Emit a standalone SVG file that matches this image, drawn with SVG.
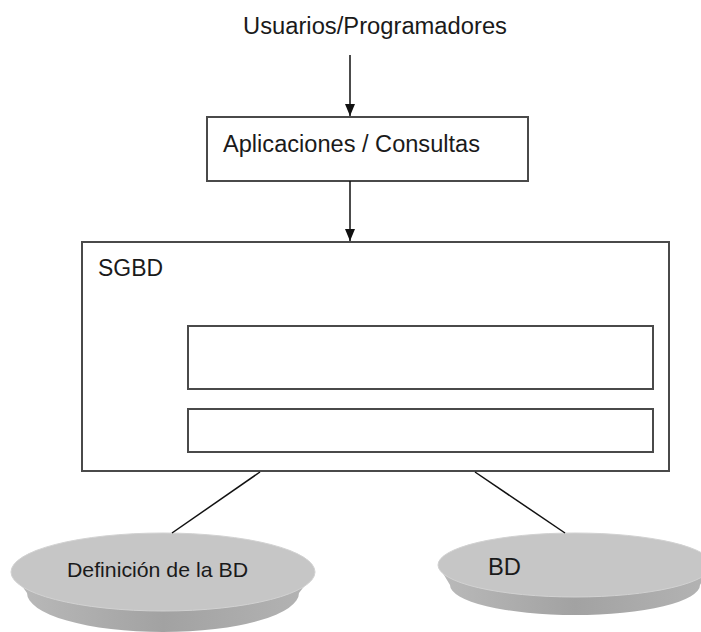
<svg xmlns="http://www.w3.org/2000/svg" width="701" height="632" viewBox="0 0 701 632">
<style>
.box{fill:#fff;stroke:#4a4a4a;stroke-width:2}
.lbl{font-family:"Liberation Sans",Arial,sans-serif;fill:#1a1a1a}
.conn{stroke:#111;stroke-width:1.5;fill:none}
.top{fill:#c6c6c6;stroke:#d2d2d2;stroke-width:1}
.side{fill:url(#sideg)}
</style>
<defs>
<marker id="arr" viewBox="0 0 10 10" refX="10" refY="5" markerWidth="7" markerHeight="8" markerUnits="userSpaceOnUse" orient="auto">
<path d="M0,0 L10,5 L0,10 Z" fill="#111"/>
</marker>
<marker id="arrow" viewBox="0 0 12 12" refX="12" refY="6" markerWidth="12" markerHeight="12" markerUnits="userSpaceOnUse" orient="auto">
<path d="M0,1 L12,6 L0,11 Z" fill="#111"/>
</marker>
<linearGradient id="sideg" x1="0" y1="0" x2="1" y2="0">
<stop offset="0" stop-color="#bababa"/>
<stop offset="0.5" stop-color="#a2a2a2"/>
<stop offset="1" stop-color="#b4b4b4"/>
</linearGradient>
</defs>
<g id="usuarios">
<text class="lbl" x="375" y="34" font-size="23" text-anchor="middle" textLength="264" lengthAdjust="spacingAndGlyphs">Usuarios/Programadores</text>
</g>
<g id="aplicaciones">
<rect class="box" x="207" y="117" width="321" height="64"/>
<text class="lbl" x="223" y="152" font-size="23" textLength="257" lengthAdjust="spacingAndGlyphs">Aplicaciones / Consultas</text>
</g>
<g id="sgbd">
<rect class="box" x="82" y="242" width="587" height="229"/>
<text class="lbl" x="98" y="276" font-size="23" textLength="65" lengthAdjust="spacingAndGlyphs">SGBD</text>
<rect class="box" x="188" y="326" width="465" height="63"/>
<rect class="box" x="188" y="409" width="465" height="43"/>
</g>
<g id="definicion">
<path class="side" d="M12,572 L27,593 A136,39 0 0 0 299,593 L315,572 Z"/>
<ellipse class="top" cx="163" cy="572" rx="152" ry="39"/>
<text class="lbl" x="67" y="577" font-size="21" textLength="181" lengthAdjust="spacingAndGlyphs">Definición de la BD</text>
</g>
<g id="bd">
<path class="side" d="M438,565 L450,585 A125,30 0 0 0 700,585 L712,565 Z"/>
<ellipse class="top" cx="575" cy="565" rx="137" ry="32"/>
<text class="lbl" x="488" y="575" font-size="23" textLength="33" lengthAdjust="spacingAndGlyphs">BD</text>
</g>
<g id="connectors">
<line class="conn" x1="350" y1="55" x2="350" y2="116" marker-end="url(#arrow)"/>
<line class="conn" x1="350" y1="181" x2="350" y2="241" marker-end="url(#arrow)"/>
<line class="conn" x1="260" y1="472" x2="172" y2="533"/>
<line class="conn" x1="475" y1="472" x2="565" y2="533"/>
</g>
</svg>
